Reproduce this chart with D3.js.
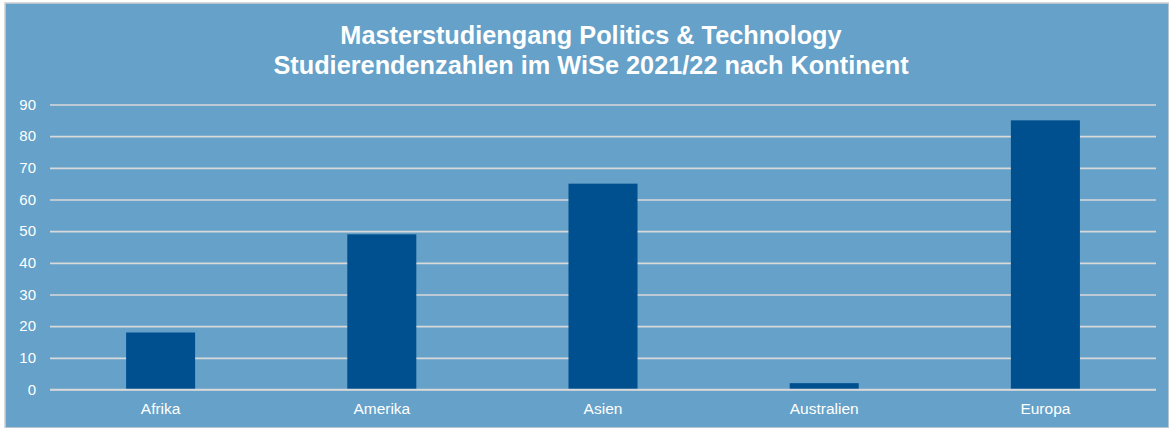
<!DOCTYPE html>
<html><head><meta charset="utf-8">
<script src="https://cdn.jsdelivr.net/npm/d3@7"></script>
<style>
html,body{margin:0;padding:0;background:#fff;}
svg{display:block;font-family:"Liberation Sans",Arial,sans-serif;}
</style></head>
<body>
<svg id="chart" width="1169" height="428"></svg>
<script>
const titleLines = ["Masterstudiengang Politics & Technology", "Studierendenzahlen im WiSe 2021/22 nach Kontinent"];
const categories = ["Afrika", "Amerika", "Asien", "Australien", "Europa"];
const values = [18, 49, 65, 2, 85];
const yTicks = [0, 10, 20, 30, 40, 50, 60, 70, 80, 90];

(function () {
const svg = d3.select("#chart");
svg.append("rect").attr("x", 5).attr("y", 3).attr("width", 1164).attr("height", 425)
  .attr("fill", "#65a1c8").attr("stroke", "#d0d0d0").attr("stroke-width", 1.5);

const pLeft = 50, pRight = 1156, pTop = 104.5, pBottom = 389.5;
const x = d3.scaleBand().domain(categories).range([pLeft, pRight]).paddingInner(0.688).paddingOuter(0.344);
const y = d3.scaleLinear().domain([0, 90]).range([pBottom, pTop]);

// gridlines
const yAxis = d3.axisLeft(y).tickValues(yTicks).tickSize(-(pRight - pLeft)).tickPadding(14);
const gy = svg.append("g").attr("transform", `translate(${pLeft},0)`).call(yAxis);
gy.select(".domain").remove();
gy.selectAll(".tick line").attr("stroke", "#d9d9d9").attr("stroke-width", 1.6);
gy.selectAll(".tick text").attr("fill", "#ffffff").attr("font-size", 15)
  .attr("font-family", "Liberation Sans, Arial, sans-serif").attr("x", -14);

// bars
svg.append("g").selectAll("rect").data(values).join("rect")
  .attr("x", (d, i) => x(categories[i]))
  .attr("width", x.bandwidth())
  .attr("y", d => y(d))
  .attr("height", d => y(0) - y(d))
  .attr("fill", "#005090");

// baseline gridline redraw over bars
svg.append("line").attr("x1", pLeft).attr("x2", pRight).attr("y1", y(0)).attr("y2", y(0))
  .attr("stroke", "#d9d9d9").attr("stroke-width", 1.6);

// x axis labels
const xAxis = d3.axisBottom(x).tickSize(0).tickPadding(13);
const gx = svg.append("g").attr("transform", `translate(0,${pBottom})`).call(xAxis);
gx.select(".domain").remove();
gx.selectAll(".tick text").attr("fill", "#ffffff").attr("font-size", 15.5)
  .attr("font-family", "Liberation Sans, Arial, sans-serif");

// title
svg.append("g").selectAll("text").data(titleLines).join("text")
  .attr("x", 591).attr("y", (d, i) => 43.5 + i * 30)
  .attr("text-anchor", "middle").attr("fill", "#ffffff")
  .attr("font-size", 25.3).attr("font-weight", "bold")
  .text(d => d);
})();
</script>
</body></html>
